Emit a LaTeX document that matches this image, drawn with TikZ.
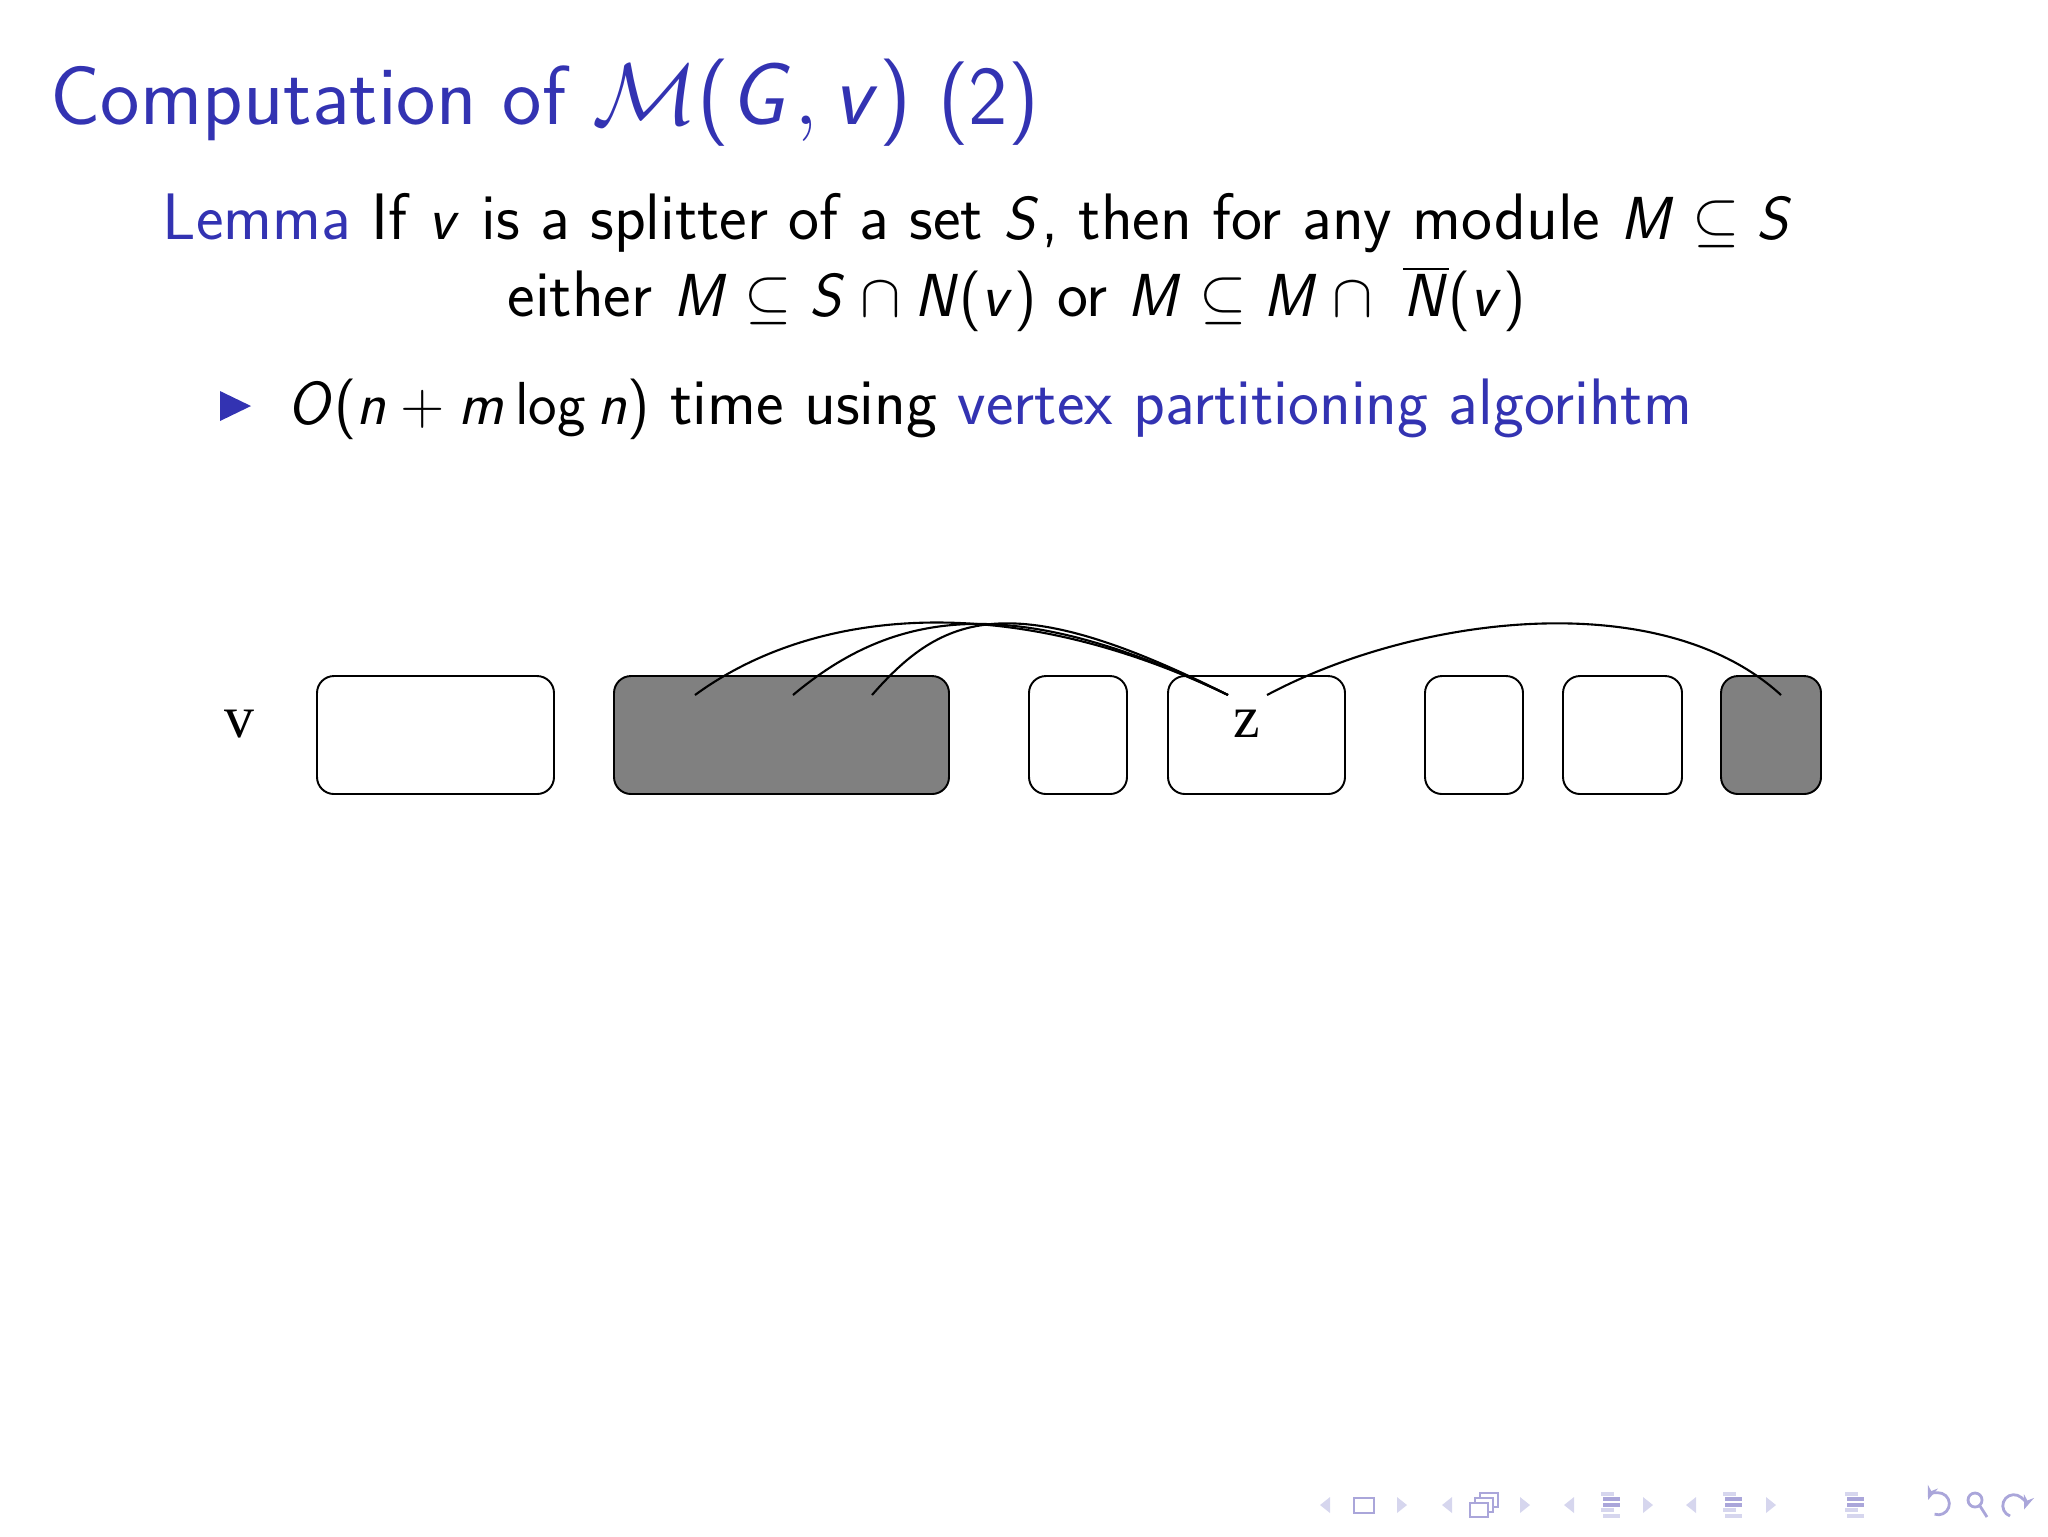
\documentclass[tikz,border=0pt]{standalone}
\usepackage[no-math]{fontspec}
\usepackage{tikz}
\usetikzlibrary{positioning,calc,arrows.meta}
\newfontfamily\figfont{Liberation Serif}
\definecolor{struct}{RGB}{51,51,178}
\definecolor{navlt}{RGB}{214,214,238}
\definecolor{navdk}{RGB}{170,166,218}
% sans math as on the slides
\SetSymbolFont{operators}{normal}{OT1}{cmss}{m}{n}
\DeclareSymbolFont{sfletters}{OT1}{cmss}{m}{sl}
\DeclareMathSymbol{G}{\mathalpha}{sfletters}{`G}
\DeclareMathSymbol{M}{\mathalpha}{sfletters}{`M}
\DeclareMathSymbol{N}{\mathalpha}{sfletters}{`N}
\DeclareMathSymbol{O}{\mathalpha}{sfletters}{`O}
\DeclareMathSymbol{S}{\mathalpha}{sfletters}{`S}
\DeclareMathSymbol{m}{\mathalpha}{sfletters}{`m}
\DeclareMathSymbol{n}{\mathalpha}{sfletters}{`n}
\DeclareMathSymbol{v}{\mathalpha}{sfletters}{`v}

\begin{document}
\begin{tikzpicture}[x=0.1mm, y=-0.1mm,
blk/.style = {draw, line width=0.55pt, rounded corners=1.7mm,
              minimum height=11.8mm, inner sep=0pt},
dark/.style = {blk, fill=gray},
lbl/.style = {font=\figfont\fontsize{17}{17}\selectfont, inner sep=0pt, anchor=base},
txt/.style = {anchor=base west, inner sep=0pt, font=\sffamily\fontsize{18.7}{22}\selectfont},
link/.style = {line width=0.6pt},
navbar/.style = {line width=0.9pt}
                    ]
\useasboundingbox (0,0) rectangle (2048,1536);
%
\node[txt, text=struct, font=\sffamily\fontsize{23.8}{29}\selectfont] (title) at (50,124)
    {Computation of $\mathcal{M}(G,v)$ (2)};
\node[txt] (lem1) at (162,239)
    {\textcolor{struct}{Lemma} If $v$ is a splitter of a set $S$, then for any module $M\subseteq S$};
\node[txt] (lem2) at (507,316)
    {either $M\subseteq S\cap N(v)$ or $M\subseteq M\cap\;\overline{N}(v)$};
\fill[struct] (220,391) -- (251,406) -- (220,421) -- cycle;
\node[txt] (item) at (287,424)
    {$O(n+m\log n)$ time using \textcolor{struct}{vertex partitioning algorihtm}};
%
\node[blk,  minimum width=23.7mm] (b1) at (435.5,735) {};
\node[dark, minimum width=33.5mm] (b2) at (781.5,735) {};
\node[blk,  minimum width=9.8mm]  (b3) at (1078,735) {};
\node[blk,  minimum width=17.7mm] (b4) at (1256.5,735) {};
\node[blk,  minimum width=9.8mm]  (b5) at (1474,735) {};
\node[blk,  minimum width=11.9mm] (b6) at (1622.5,735) {};
\node[dark, minimum width=10mm]   (b7) at (1771,735) {};
\node[lbl] (lv) at (239,737) {v};
\node[lbl] (lz) at (1247,737) {z};
%
\coordinate (s1) at (695,695);
\coordinate (s2) at (793,695);
\coordinate (s3) at (872,695);
\coordinate (t1) at (1228,695);
\coordinate (s4) at (1267,695);
\coordinate (t2) at (1781,695);
\draw[link] (s1) .. controls +(120,-88) and +(-218,-105) .. (t1);
\draw[link] (s2) .. controls +(100,-84) and +(-218,-105) .. (t1);
\draw[link] (s3) .. controls +(70,-80) and +(-218,-110) .. (t1);
\draw[link] (s4) .. controls +(150,-80) and +(-120,-110) .. (t2);
%
\foreach \x in {1325,1447,1569,1691}
    \fill[navlt] ({\x+5},1497) -- ({\x-5},1505) -- ({\x+5},1513) -- cycle;
\foreach \x in {1402,1525,1648,1771}
    \fill[navlt] ({\x-5},1497) -- ({\x+5},1505) -- ({\x-5},1513) -- cycle;
\draw[navdk, line width=0.6pt] (1354,1498) rectangle (1374,1513);
\foreach \d in {10,5,0}
    \draw[navdk, fill=white, line width=0.5pt] ({1470+\d},{1503-\d}) rectangle +(18,14);
\foreach \x in {1609,1731,1853}
  {
    \draw[navlt, navbar] ({\x-8},1494) -- ++(13,0);
    \draw[navdk, navbar] ({\x-6},1499) -- ++(17,0);
    \draw[navdk, navbar] ({\x-6},1505) -- ++(17,0);
    \draw[navlt, navbar] ({\x-8},1510) -- ++(13,0);
    \draw[navlt, navbar] ({\x-6},1516) -- ++(17,0);
  }
\draw[navdk, line width=0.8pt, {Stealth[length=4pt]}-] (1928,1500) arc[start angle=200, end angle=470, radius=11];
\draw[navdk, line width=0.8pt] (1975,1500) circle[radius=7] (1980,1506) -- (1987,1517);
\draw[navdk, line width=0.8pt, -{Stealth[length=4pt]}] (2010,1516) arc[start angle=110, end angle=380, radius=11];
\end{tikzpicture}
\end{document}
